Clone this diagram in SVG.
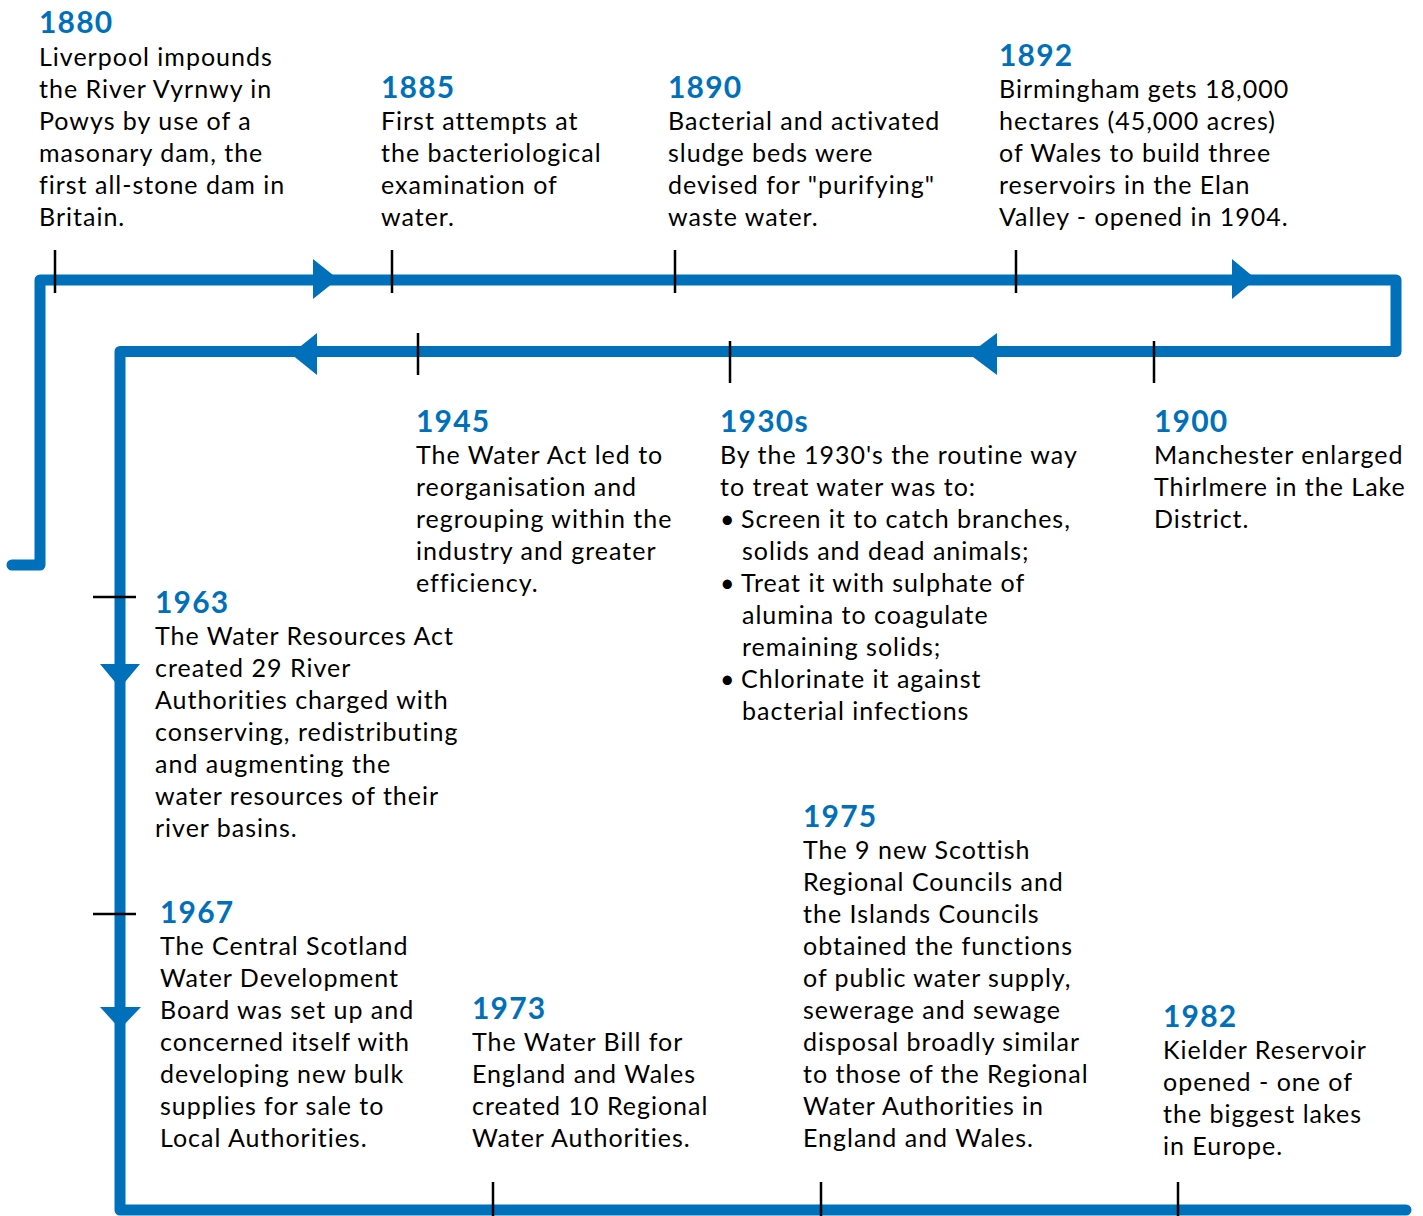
<svg xmlns="http://www.w3.org/2000/svg" width="1423" height="1216" viewBox="0 0 1423 1216">
<style>
.line{fill:none;stroke:#0070BA;stroke-width:11;stroke-linecap:round;stroke-linejoin:round}
.arr{fill:#0070BA}
.tick{stroke:#000;stroke-width:2.5}
.yr{font-family:Lato,"Noto Sans",sans-serif;font-weight:bold;font-size:30px;letter-spacing:1.2px;fill:#0070BA}
.tx{font-family:Lato,"Noto Sans",sans-serif;font-size:25px;letter-spacing:1px;fill:#000}
</style>
<rect width="1423" height="1216" fill="#fff"/>
<g id="connectors">
<path class="line" d="M12 565 H40 V280 H1396 V351.5 H120 V1210 H1406"/>
<polygon class="arr" points="313,259 313,299 338,279"/>
<polygon class="arr" points="1232,259 1232,299 1256,279"/>
<polygon class="arr" points="317,333 317,375 291,354"/>
<polygon class="arr" points="997,333 997,375 969,354"/>
<polygon class="arr" points="100,664 140,664 120,688"/>
<polygon class="arr" points="100,1007 141,1007 120,1029"/>
<line class="tick" x1="55" y1="250" x2="55" y2="293"/>
<line class="tick" x1="392" y1="250" x2="392" y2="293"/>
<line class="tick" x1="675" y1="250" x2="675" y2="293"/>
<line class="tick" x1="1016" y1="250" x2="1016" y2="293"/>
<line class="tick" x1="418" y1="333" x2="418" y2="375"/>
<line class="tick" x1="730" y1="341" x2="730" y2="383"/>
<line class="tick" x1="1154" y1="341" x2="1154" y2="383"/>
<line class="tick" x1="93" y1="597" x2="136" y2="597"/>
<line class="tick" x1="93" y1="914" x2="136" y2="914"/>
<line class="tick" x1="493" y1="1182" x2="493" y2="1216"/>
<line class="tick" x1="821" y1="1182" x2="821" y2="1216"/>
<line class="tick" x1="1178" y1="1182" x2="1178" y2="1216"/>
</g>
<g id="n1880">
<text class="yr" x="39" y="33">1880</text>
<text class="tx" x="39" y="66">Liverpool impounds</text>
<text class="tx" x="39" y="98">the River Vyrnwy in</text>
<text class="tx" x="39" y="130">Powys by use of a</text>
<text class="tx" x="39" y="162">masonary dam, the</text>
<text class="tx" x="39" y="194">first all-stone dam in</text>
<text class="tx" x="39" y="226">Britain.</text>
</g>
<g id="n1885">
<text class="yr" x="381" y="98">1885</text>
<text class="tx" x="381" y="130">First attempts at</text>
<text class="tx" x="381" y="162">the bacteriological</text>
<text class="tx" x="381" y="194">examination of</text>
<text class="tx" x="381" y="226">water.</text>
</g>
<g id="n1890">
<text class="yr" x="668" y="98">1890</text>
<text class="tx" x="668" y="130">Bacterial and activated</text>
<text class="tx" x="668" y="162">sludge beds were</text>
<text class="tx" x="668" y="194">devised for "purifying"</text>
<text class="tx" x="668" y="226">waste water.</text>
</g>
<g id="n1892">
<text class="yr" x="999" y="66">1892</text>
<text class="tx" x="999" y="98">Birmingham gets 18,000</text>
<text class="tx" x="999" y="130">hectares (45,000 acres)</text>
<text class="tx" x="999" y="162">of Wales to build three</text>
<text class="tx" x="999" y="194">reservoirs in the Elan</text>
<text class="tx" x="999" y="226">Valley - opened in 1904.</text>
</g>
<g id="n1945">
<text class="yr" x="416" y="432">1945</text>
<text class="tx" x="416" y="464">The Water Act led to</text>
<text class="tx" x="416" y="496">reorganisation and</text>
<text class="tx" x="416" y="528">regrouping within the</text>
<text class="tx" x="416" y="560">industry and greater</text>
<text class="tx" x="416" y="592">efficiency.</text>
</g>
<g id="n1930s">
<text class="yr" x="720" y="432">1930s</text>
<text class="tx" x="720" y="464">By the 1930's the routine way</text>
<text class="tx" x="720" y="496">to treat water was to:</text>
<text class="tx" x="720" y="528">•</text>
<text class="tx" x="741" y="528">Screen it to catch branches,</text>
<text class="tx" x="742" y="560">solids and dead animals;</text>
<text class="tx" x="720" y="592">•</text>
<text class="tx" x="741" y="592">Treat it with sulphate of</text>
<text class="tx" x="742" y="624">alumina to coagulate</text>
<text class="tx" x="742" y="656">remaining solids;</text>
<text class="tx" x="720" y="688">•</text>
<text class="tx" x="741" y="688">Chlorinate it against</text>
<text class="tx" x="742" y="720">bacterial infections</text>
</g>
<g id="n1900">
<text class="yr" x="1154" y="432">1900</text>
<text class="tx" x="1154" y="464">Manchester enlarged</text>
<text class="tx" x="1154" y="496">Thirlmere in the Lake</text>
<text class="tx" x="1154" y="528">District.</text>
</g>
<g id="n1963">
<text class="yr" x="155" y="613">1963</text>
<text class="tx" x="155" y="645">The Water Resources Act</text>
<text class="tx" x="155" y="677">created 29 River</text>
<text class="tx" x="155" y="709">Authorities charged with</text>
<text class="tx" x="155" y="741">conserving, redistributing</text>
<text class="tx" x="155" y="773">and augmenting the</text>
<text class="tx" x="155" y="805">water resources of their</text>
<text class="tx" x="155" y="837">river basins.</text>
</g>
<g id="n1967">
<text class="yr" x="160" y="923">1967</text>
<text class="tx" x="160" y="955">The Central Scotland</text>
<text class="tx" x="160" y="987">Water Development</text>
<text class="tx" x="160" y="1019">Board was set up and</text>
<text class="tx" x="160" y="1051">concerned itself with</text>
<text class="tx" x="160" y="1083">developing new bulk</text>
<text class="tx" x="160" y="1115">supplies for sale to</text>
<text class="tx" x="160" y="1147">Local Authorities.</text>
</g>
<g id="n1973">
<text class="yr" x="472" y="1019">1973</text>
<text class="tx" x="472" y="1051">The Water Bill for</text>
<text class="tx" x="472" y="1083">England and Wales</text>
<text class="tx" x="472" y="1115">created 10 Regional</text>
<text class="tx" x="472" y="1147">Water Authorities.</text>
</g>
<g id="n1975">
<text class="yr" x="803" y="827">1975</text>
<text class="tx" x="803" y="859">The 9 new Scottish</text>
<text class="tx" x="803" y="891">Regional Councils and</text>
<text class="tx" x="803" y="923">the Islands Councils</text>
<text class="tx" x="803" y="955">obtained the functions</text>
<text class="tx" x="803" y="987">of public water supply,</text>
<text class="tx" x="803" y="1019">sewerage and sewage</text>
<text class="tx" x="803" y="1051">disposal broadly similar</text>
<text class="tx" x="803" y="1083">to those of the Regional</text>
<text class="tx" x="803" y="1115">Water Authorities in</text>
<text class="tx" x="803" y="1147">England and Wales.</text>
</g>
<g id="n1982">
<text class="yr" x="1163" y="1027">1982</text>
<text class="tx" x="1163" y="1059">Kielder Reservoir</text>
<text class="tx" x="1163" y="1091">opened - one of</text>
<text class="tx" x="1163" y="1123">the biggest lakes</text>
<text class="tx" x="1163" y="1155">in Europe.</text>
</g>
</svg>
